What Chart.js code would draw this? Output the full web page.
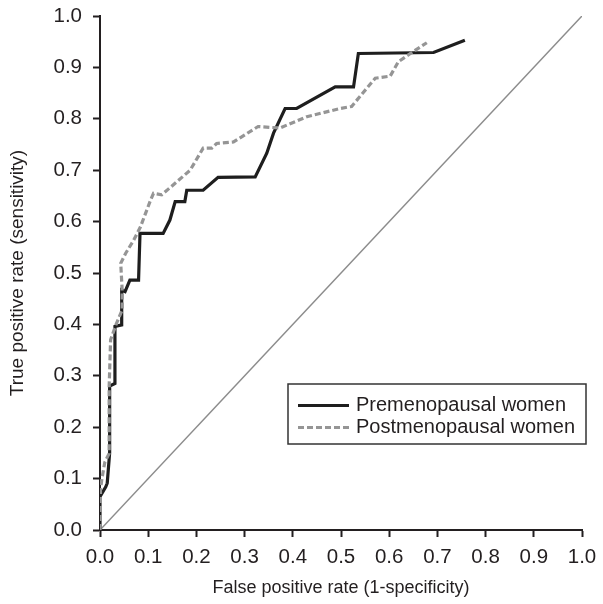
<!DOCTYPE html>
<html>
<head>
<meta charset="utf-8">
<script src="https://cdn.jsdelivr.net/npm/chart.js@4.4.1/dist/chart.umd.min.js"></script>
<style>
  html, body { margin: 0; padding: 0; background: #fff; }
  #roc { display: block; }
</style>
</head>
<body>
<canvas id="roc" width="603" height="604"></canvas>
<script>
// ROC curves, values
var preFpr = [0, 0, 0.012, 0.015, 0.020, 0.020, 0.031, 0.031, 0.045, 0.045, 0.052, 0.062, 0.080, 0.083, 0.131, 0.145, 0.156, 0.176, 0.180, 0.214, 0.245, 0.322, 0.346, 0.360, 0.384, 0.408, 0.488, 0.526, 0.536, 0.692, 0.757];
var preTpr = [0, 0.065, 0.084, 0.091, 0.150, 0.280, 0.285, 0.396, 0.399, 0.467, 0.464, 0.486, 0.486, 0.577, 0.577, 0.603, 0.639, 0.639, 0.661, 0.661, 0.686, 0.687, 0.733, 0.772, 0.820, 0.820, 0.862, 0.862, 0.927, 0.929, 0.953];

var postFpr = [0, 0.001, 0.004, 0.010, 0.019, 0.019, 0.022, 0.033, 0.046, 0.046, 0.043, 0.053, 0.070, 0.084, 0.105, 0.111, 0.128, 0.187, 0.214, 0.232, 0.242, 0.277, 0.328, 0.373, 0.429, 0.498, 0.522, 0.571, 0.602, 0.619, 0.650, 0.678];
var postTpr = [0, 0.078, 0.100, 0.132, 0.149, 0.279, 0.370, 0.399, 0.428, 0.467, 0.519, 0.538, 0.564, 0.590, 0.642, 0.655, 0.652, 0.700, 0.743, 0.743, 0.752, 0.755, 0.785, 0.782, 0.804, 0.820, 0.824, 0.879, 0.883, 0.911, 0.931, 0.948];

var refLine = [0, 1];
var axisTicks = [0, 0.1, 0.2, 0.3, 0.4, 0.5, 0.6, 0.7, 0.8, 0.9, 1.0];
var seriesNames = ['Premenopausal women', 'Postmenopausal women'];

function toPoints(xs, ys) {
  var pts = [];
  for (var i = 0; i < xs.length; i++) pts.push({ x: xs[i], y: ys[i] });
  return pts;
}

var ink = '#231f20';
var font = 'Liberation Sans, Arial, Helvetica, sans-serif';

// legend box drawn inside the plot
var boxLegend = {
  id: 'boxLegend',
  afterDraw: function(chart) {
    var ctx = chart.ctx;
    var sets = [chart.data.datasets[1], chart.data.datasets[0]];
    ctx.save();
    ctx.strokeStyle = '#333';
    ctx.lineWidth = 1.5;
    ctx.fillStyle = '#fff';
    ctx.fillRect(288, 384, 298, 60);
    ctx.strokeRect(288, 384, 298, 60);
    var rows = [405.5, 427.5];
    for (var i = 0; i < 2; i++) {
      ctx.beginPath();
      ctx.strokeStyle = sets[i].borderColor;
      ctx.lineWidth = sets[i].borderWidth;
      ctx.setLineDash(sets[i].borderDash || []);
      ctx.moveTo(298, rows[i]);
      ctx.lineTo(349, rows[i]);
      ctx.stroke();
      ctx.setLineDash([]);
      ctx.fillStyle = ink;
      ctx.font = '20px ' + font;
      ctx.textBaseline = 'middle';
      ctx.textAlign = 'left';
      ctx.fillText(seriesNames[i], 356, rows[i]);
    }
    ctx.restore();
  }
};

var chart = new Chart(document.getElementById('roc'), {
  type: 'scatter',
  data: {
    datasets: [{
      label: seriesNames[1],
      data: toPoints(postFpr, postTpr),
      showLine: true,
      borderColor: '#959595',
      borderWidth: 3.2,
      borderDash: [6, 3],
      pointRadius: 0,
      tension: 0
    }, {
      label: seriesNames[0],
      data: toPoints(preFpr, preTpr),
      showLine: true,
      borderColor: '#1e1e1e',
      borderWidth: 3.2,
      pointRadius: 0,
      tension: 0
    }, {
      label: 'reference',
      data: toPoints(refLine, refLine),
      showLine: true,
      borderColor: '#8c8c8c',
      borderWidth: 1.5,
      pointRadius: 0
    }]
  },
  options: {
    responsive: false,
    animation: false,
    layout: { padding: { top: 16, right: 21, left: 0, bottom: 0 } },
    plugins: {
      legend: { display: false },
      tooltip: { enabled: false }
    },
    scales: {
      x: {
        type: 'linear',
        min: 0,
        max: 1,
        afterBuildTicks: function(axis) {
          axis.ticks = axisTicks.map(function(v) { return { value: v }; });
        },
        afterFit: function(axis) {
          axis.height = 74;
          axis.paddingLeft = 0;
          axis.paddingRight = 0;
        },
        grid: { drawOnChartArea: false, tickLength: 7, tickWidth: 2, tickColor: ink },
        border: { color: ink, width: 2 },
        ticks: {
          padding: 8,
          color: ink,
          font: { family: font, size: 20.5 },
          maxRotation: 0,
          callback: function(v) { return Number(v).toFixed(1); }
        },
        title: {
          display: true,
          text: 'False positive rate (1-specificity)',
          color: ink,
          font: { family: font, size: 18 },
          padding: { top: 0, bottom: 5 }
        }
      },
      y: {
        type: 'linear',
        min: 0,
        max: 1,
        afterBuildTicks: function(axis) {
          axis.ticks = axisTicks.map(function(v) { return { value: v }; });
        },
        afterFit: function(axis) {
          axis.width = 100;
          axis.paddingTop = 0;
          axis.paddingBottom = 0;
        },
        grid: { drawOnChartArea: false, tickLength: 7, tickWidth: 2, tickColor: ink },
        border: { color: ink, width: 2 },
        ticks: {
          padding: 11,
          color: ink,
          font: { family: font, size: 20.5 },
          callback: function(v) { return Number(v).toFixed(1); }
        },
        title: {
          display: true,
          text: 'True positive rate (sensitivity)',
          color: ink,
          font: { family: font, size: 19 },
          padding: { top: 6, bottom: 0 }
        }
      }
    }
  },
  plugins: [boxLegend]
});
</script>
</body>
</html>
